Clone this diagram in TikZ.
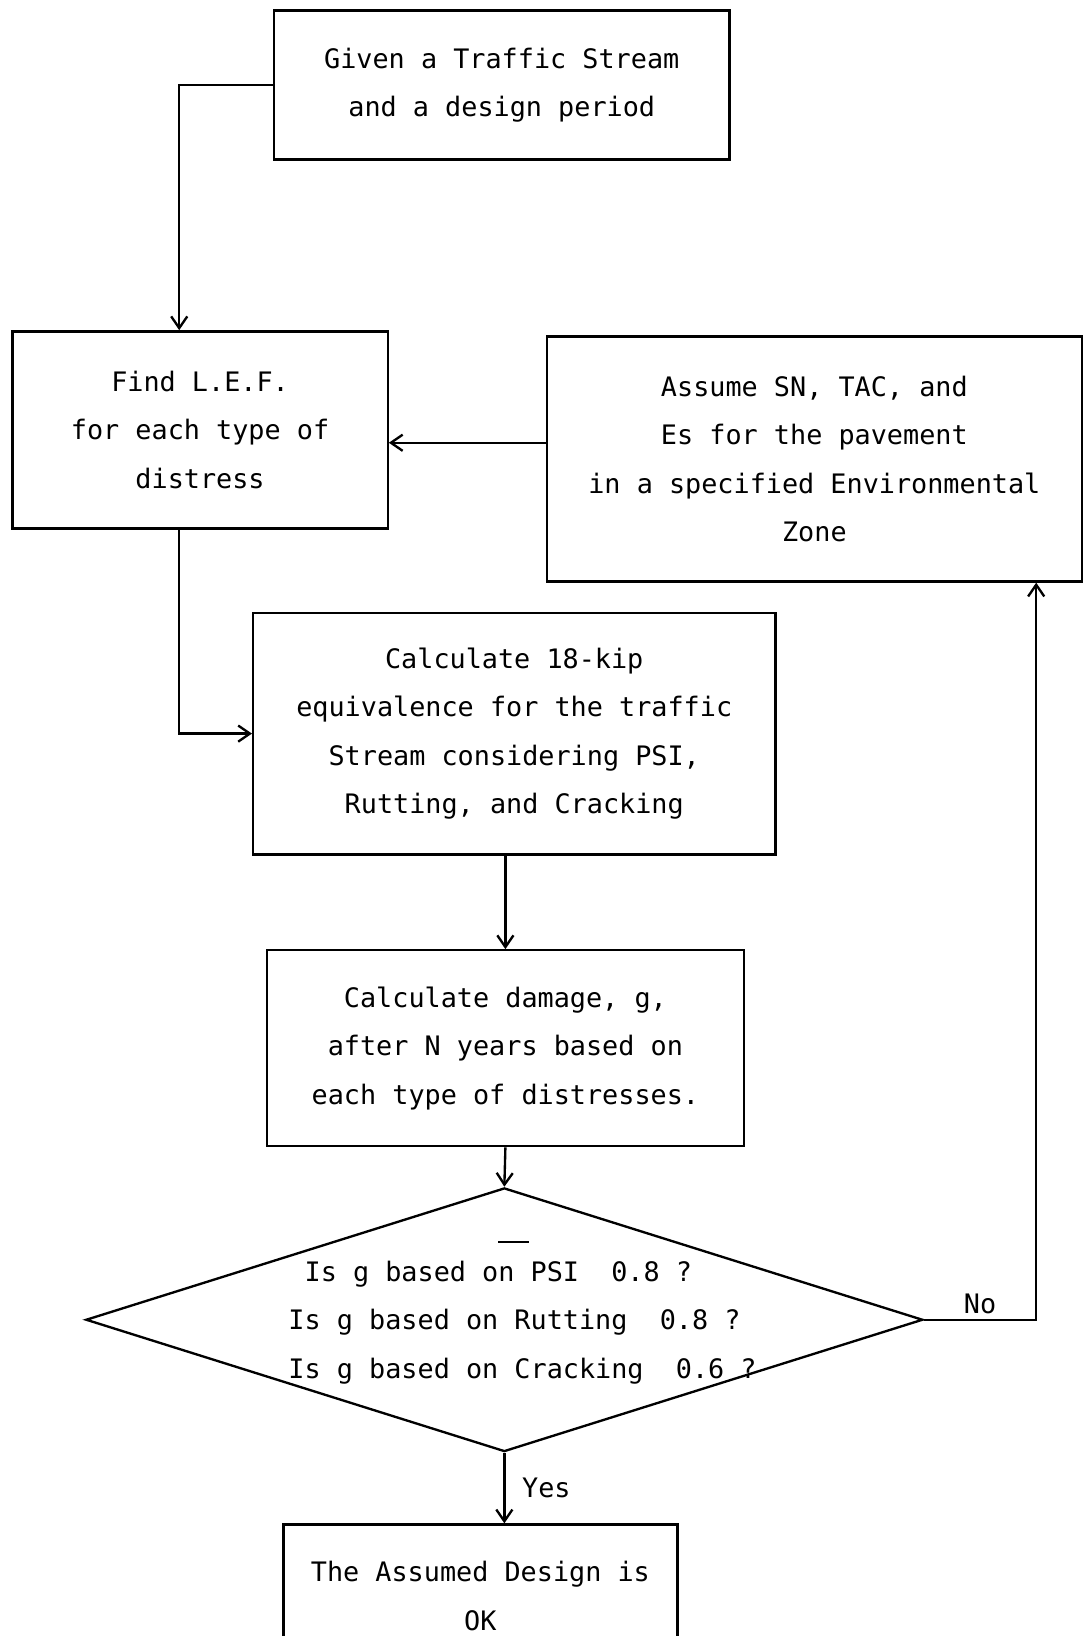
\documentclass[tikz,border=0pt]{standalone}
\usepackage{fontspec}
\setmonofont{DejaVu Sans Mono}
\usetikzlibrary{shapes.geometric,arrows.meta}

\begin{document}
\begin{tikzpicture}[x=0.025cm,y=-0.025cm,line width=1.6pt,
  txt/.style={font=\ttfamily\fontsize{18.3}{33}\selectfont},
  box/.style={txt,draw,align=center,inner sep=0pt},
  flow/.style={->,>={Straight Barb[length=8pt,width=11pt]}}]
\useasboundingbox (0,0) rectangle (1042,1570);

\node[box,minimum width=10.925cm,minimum height=3.575cm] (given) at (481.5,81.5) {Given a Traffic Stream\\and a design period};
\node[box,minimum width=9cm,minimum height=4.725cm] (find) at (192,412.5) {Find L.E.F.\\for each type of\\distress};
\node[box,minimum width=12.825cm,minimum height=5.875cm] (assume) at (781.5,440.5) {Assume SN, TAC, and\\Es for the pavement\\in a specified Environmental\\Zone};
\node[box,minimum width=12.525cm,minimum height=5.8cm] (equiv) at (493.5,704) {Calculate 18-kip\\equivalence for the traffic\\Stream considering PSI,\\Rutting, and Cracking};
\node[box,minimum width=11.45cm,minimum height=4.7cm] (damage) at (485,1006) {Calculate damage, g,\\after N years based on\\each type of distresses.};
\node[draw,diamond,inner sep=0pt,minimum width=20.075cm,minimum height=6.325cm] (check) at (484,1266.5) {};
\node[txt,align=left] (checktxt) at (501.5,1269) {\hspace*{0.602em}Is g based on PSI~~0.8 ?\\Is g based on Rutting~~0.8 ?\\Is g based on Cracking~~0.6 ?};
\node[box,minimum width=9.45cm,minimum height=3.425cm] (ok) at (461,1531.5) {The Assumed Design is\\OK};

\draw (478,1192) -- (508,1192);

\draw[flow] (given.west) -| ([xshift=-0.5cm]find.north);
\draw[flow] ([yshift=0.39cm]assume.west) -- ([yshift=0.39cm]assume.west -| find.east);
\draw[flow] ([xshift=-0.5cm]find.south) |- (equiv.west);
\draw[flow] (damage.north |- equiv.south) -- (damage.north);
\draw[flow] (damage.south) -- (check.north);
\draw[flow] (check.east) -| node[txt,pos=0.25,above] {No} ([xshift=-1.12cm]assume.south east);
\draw[flow] (check.south) -- node[txt,right,xshift=8pt] {Yes} (check.south |- ok.north);
\end{tikzpicture}
\end{document}
